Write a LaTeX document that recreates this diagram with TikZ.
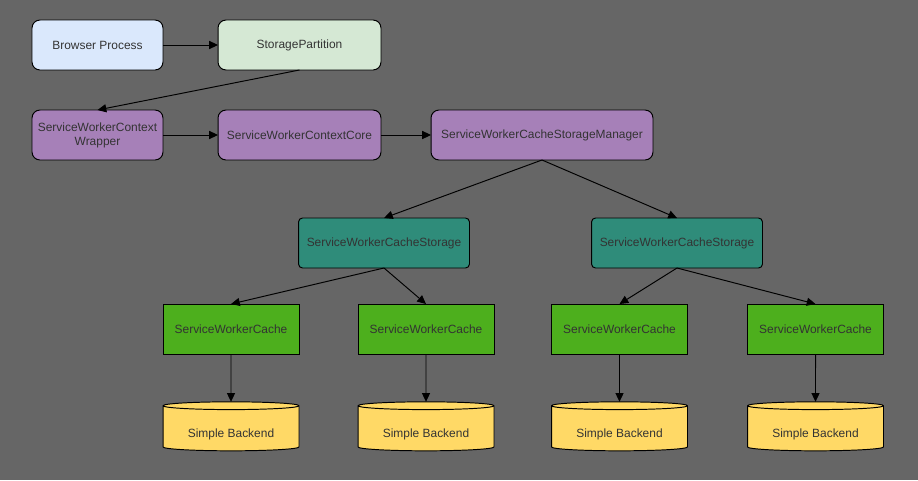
\documentclass[tikz,border=0pt]{standalone}
\usepackage{fontspec}
\setmainfont{Liberation Sans}
\usetikzlibrary{arrows.meta,shapes.geometric}
\definecolor{bggray}{HTML}{666666}
\definecolor{bpblue}{HTML}{DAE8FC}
\definecolor{spgreen}{HTML}{D5E8D4}
\definecolor{swpurple}{HTML}{A680B8}
\definecolor{csteal}{HTML}{2F8C7A}
\definecolor{cachegreen}{HTML}{4DAF1D}
\definecolor{beyellow}{HTML}{FFD966}
\newcommand{\lowtext}[1]{\raisebox{-5pt}[0pt][0pt]{#1}}
\begin{document}
\begin{tikzpicture}[x=0.02cm,y=-0.02cm,
  font=\fontsize{6.8}{8}\selectfont,
  box/.style={draw=black,line width=0.55pt,inner sep=0pt,outer sep=0pt,
    minimum height=1cm,text=black!80,align=center},
  roundbox/.style={box,rounded corners=0.16cm},
  storagebox/.style={box,fill=csteal,rounded corners=0.08cm,minimum width=3.42cm},
  cachebox/.style={box,fill=cachegreen,minimum width=2.72cm},
  backend/.style={box,cylinder,shape border rotate=90,aspect=0.09,
    fill=beyellow,minimum width=2.72cm,minimum height=0.98cm},
  link/.style={line width=0.55pt,-{Triangle[length=5pt,width=4.6pt]}}]
\fill[bggray] (0,0) rectangle (918,480);
% top rows
\node[roundbox,fill=bpblue,minimum width=2.62cm] (bp) at (97.5,45) {Browser Process};
\node[roundbox,fill=spgreen,minimum width=3.26cm] (sp) at (299.5,45) {StoragePartition};
\node[roundbox,fill=swpurple,minimum width=2.62cm] (wrap) at (97.5,135) {ServiceWorkerContext\\Wrapper};
\node[roundbox,fill=swpurple,minimum width=3.26cm] (core) at (299.5,135) {ServiceWorkerContextCore};
\node[roundbox,fill=swpurple,minimum width=4.44cm] (mgr) at (542,135) {ServiceWorkerCacheStorageManager};
% cache storages
\node[storagebox] (csl) at (384,243) {ServiceWorkerCacheStorage};
\node[storagebox] (csr) at (677,243) {ServiceWorkerCacheStorage};
% caches and backends
\foreach \n/\x in {1/231,2/426,3/619.5,4/815.5}{
  \node[cachebox] (c\n) at (\x,329) {ServiceWorkerCache};
  \node[backend] (b\n) at (\x,428.5) {\lowtext{Simple Backend}};
  \draw[link] (c\n.south) -- (b\n.north);
}
\draw[link] (bp) -- (sp);
\draw[link] (sp.south) -- (wrap.north);
\draw[link] (wrap) -- (core);
\draw[link] (core) -- (mgr);
\draw[link] (mgr.south) -- (csl.north);
\draw[link] (mgr.south) -- (csr.north);
\draw[link] (csl.south) -- (c1.north);
\draw[link] (csl.south) -- (c2.north);
\draw[link] (csr.south) -- (c3.north);
\draw[link] (csr.south) -- (c4.north);
\end{tikzpicture}
\end{document}
